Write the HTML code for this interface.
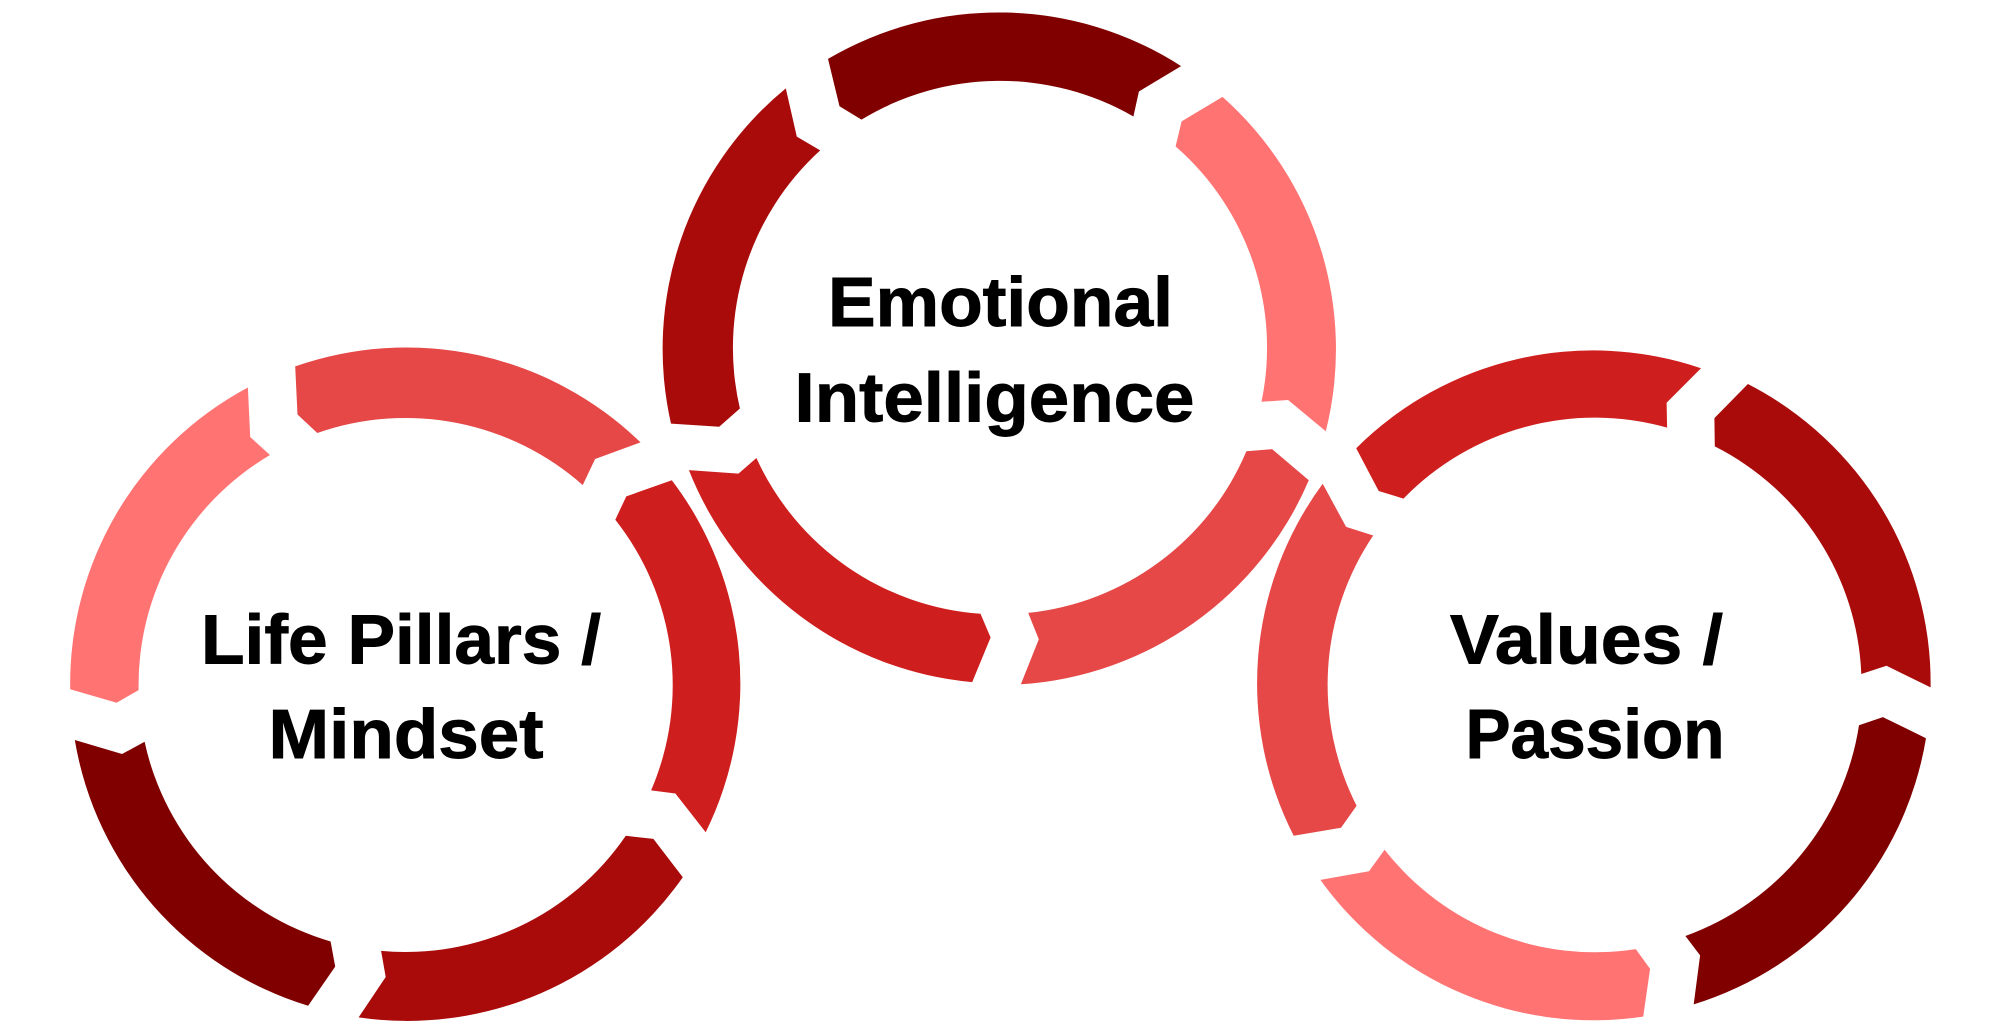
<!DOCTYPE html>
<html lang="en">
<head>
<meta charset="utf-8">
<title>Emotional Intelligence, Life Pillars, Values</title>
<style>
html,body{margin:0;padding:0;background:#fff;width:2000px;height:1035px;overflow:hidden}
svg{display:block}
text{font-family:"Liberation Sans",Arial,sans-serif;font-weight:700;font-size:70px;fill:#000;stroke:#000;stroke-width:.9px}
</style>
</head>
<body>
<svg width="2000" height="1035" viewBox="0 0 2000 1035" xmlns="http://www.w3.org/2000/svg">
<rect width="2000" height="1035" fill="#fff"/>
<!-- Top circle -->
<path fill="#800000" d="M828,58.9 A337,337 0 0 1 1181.1,66.1 L1138.9,91.5 L1133.4,116.5 A267,267 0 0 0 861.5,119.6 L839.5,106.2 Z"/>
<path fill="#FF7373" d="M1222.5,96.9 A337,337 0 0 1 1325.8,431.2 L1288.1,400 L1261.5,401.8 A267,267 0 0 0 1175.6,146.4 L1181.6,121.4 Z"/>
<path fill="#E64747" d="M1308.8,480.3 A337,337 0 0 1 1020.9,684.3 L1038.8,639.3 L1028.2,612.9 A267,267 0 0 0 1246.4,451.3 L1272.1,449.1 Z"/>
<path fill="#CF1E1E" d="M972.2,682.1 A337,337 0 0 1 688.9,470.1 L738.5,473.6 L756.4,458 A267,267 0 0 0 980.5,613.8 L990.6,637.5 Z"/>
<path fill="#A90B0B" d="M671,423.6 A337,337 0 0 1 785.8,88.4 L796.8,136.6 L820.2,150.4 A267,267 0 0 0 739.9,408.5 L719.2,426.8 Z"/>
<!-- Left circle -->
<path fill="#E64747" d="M295.2,366.4 A336,336 0 0 1 640.5,442.4 L595.1,459 L582.7,485.1 A267,267 0 0 0 317.3,433 L297.5,414.5 Z"/>
<path fill="#CF1E1E" d="M671.8,480.2 A336,336 0 0 1 705.7,832.2 L675.4,793.5 L651.1,790.4 A267,267 0 0 0 615.3,519.7 L626.3,496.4 Z"/>
<path fill="#A90B0B" d="M682.8,877.2 A336,336 0 0 1 358.6,1017.4 L385.7,977 L381.1,950.9 A267,267 0 0 0 625.8,835.8 L653.4,838.9 Z"/>
<path fill="#800000" d="M308.1,1005.8 A336,336 0 0 1 74.8,740 L122.1,754 L144.6,741.8 A267,267 0 0 0 330.6,941.5 L335.2,966.6 Z"/>
<path fill="#FF7373" d="M70.2,689.2 A336,336 0 0 1 247.9,387.5 L250.2,437 L270,455 A267,267 0 0 0 138.6,690.1 L116.6,702.7 Z"/>
<!-- Right circle -->
<path fill="#CF1E1E" d="M1356.2,448.2 A336,336 0 0 1 1701,368.2 L1666.6,402.8 L1667.1,427.6 A267,267 0 0 0 1403.5,498.6 L1378.7,491 Z"/>
<path fill="#A90B0B" d="M1747.9,384 A336,336 0 0 1 1930.6,687.4 L1886.5,665.8 L1861.3,674 A267,267 0 0 0 1714.8,446.4 L1714.4,418.1 Z"/>
<path fill="#800000" d="M1926,738.2 A336,336 0 0 1 1693.7,1004.4 L1700.1,955.4 L1685.4,936 A267,267 0 0 0 1859,725.2 L1882.9,717.1 Z"/>
<path fill="#FF7373" d="M1643.2,1016.6 A336,336 0 0 1 1320.4,879.9 L1369,871.3 L1384.6,849.7 A267,267 0 0 0 1635.8,949.1 L1650.1,968.9 Z"/>
<path fill="#E64747" d="M1293.7,835.8 A336,336 0 0 1 1322.7,483.8 L1346.1,526.9 L1373.2,535.5 A267,267 0 0 0 1356.6,805.7 L1341,827.7 Z"/>
<!-- Labels -->
<text x="828" y="326" textLength="345" lengthAdjust="spacingAndGlyphs">Emotional</text>
<text x="794.5" y="421.5" textLength="400" lengthAdjust="spacingAndGlyphs">Intelligence</text>
<text x="201" y="663.5" textLength="400" lengthAdjust="spacingAndGlyphs">Life Pillars /</text>
<text x="268.5" y="758" textLength="275" lengthAdjust="spacingAndGlyphs">Mindset</text>
<text x="1450" y="663.5" textLength="273" lengthAdjust="spacingAndGlyphs">Values /</text>
<text x="1465.5" y="758" textLength="259" lengthAdjust="spacingAndGlyphs">Passion</text>
</svg>
</body>
</html>
